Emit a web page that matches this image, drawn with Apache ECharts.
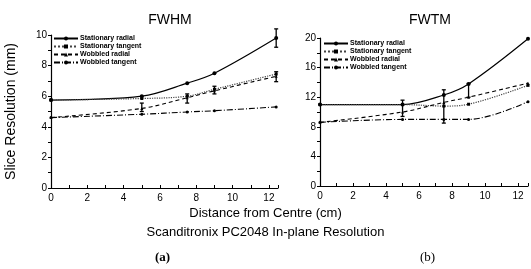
<!DOCTYPE html>
<html><head><meta charset="utf-8">
<script src="https://cdn.jsdelivr.net/npm/echarts@6/dist/echarts.min.js"></script>
<style>html,body{margin:0;padding:0;background:#fff}#c{width:531px;height:269px}</style>
</head><body><div id="c"></div>
<script>
// ---- data ----
const seriesNames = ['Stationary radial','Stationary tangent','Wobbled radial','Wobbled tangent'];
const xPos = [0, 5, 7.5, 9, 12.4];
// FWHM (a)
const fwhmStatRadial  = [5.75, 6.0, 6.85, 7.5, 9.8];
const fwhmStatTangent = [5.75, 5.85, 6.0, 6.45, 7.45];
const fwhmWobRadial   = [4.6, 5.2, 5.9, 6.35, 7.3];
const fwhmWobTangent  = [4.6, 4.82, 4.97, 5.05, 5.3];
const fwhmErr = [[5,5.0,5.55],[7.5,5.55,6.15],[9,6.15,6.65],[12.4,9.2,10.4],[12.4,6.95,7.6]];
// FWTM (b)
const xPosB = [0, 5, 7.5, 9, 12.6];
const fwtmStatRadial  = [11.0, 11.0, 12.3, 13.8, 19.9];
const fwtmStatTangent = [11.0, 11.0, 10.8, 11.05, 13.6];
const fwtmWobRadial   = [8.6, 10.0, 11.3, 12.0, 13.9];
const fwtmWobTangent  = [8.6, 9.0, 9.0, 9.0, 11.4];
const fwtmErr = [[5,9.4,11.6],[7.5,8.5,13.0],[9,12.0,13.85]];
const xTicks = [0,2,4,6,8,10,12];

const pair = (xs, ys) => xs.map((x,i)=>[x, ys[i]]);
const styles = [
  {type:'solid', width:1.2, symbol:'circle', size:4},
  {type:'dotted', width:1.2, symbol:'rect', size:3},
  {type:[4,3], width:1.1, symbol:'triangle', size:3},
  {type:[6,2,1,2], width:1.1, symbol:'circle', size:3}
];
function lines(xs, arrs, idx){
  return arrs.map((ys,k)=>({
    name: seriesNames[k], type:'line', xAxisIndex:idx, yAxisIndex:idx,
    data: pair(xs, ys), smooth:0.35, symbol: styles[k].symbol, symbolSize: styles[k].size,
    showSymbol:true, itemStyle:{color:'#000'},
    lineStyle:{color: k===1?'#444':'#000', width: styles[k].width, type: styles[k].type},
    z:3, silent:true, animation:false
  }));
}
function errSeries(data, idx){
  return {type:'custom', xAxisIndex:idx, yAxisIndex:idx, data:data, encode:{x:0,y:[1,2]}, silent:true, animation:false, z:4,
    renderItem:function(params, api){
      const x=api.value(0), lo=api.value(1), hi=api.value(2);
      const a=api.coord([x,lo]), b=api.coord([x,hi]);
      const s={stroke:'#000', lineWidth:1.3};
      return {type:'group', children:[
        {type:'line', shape:{x1:a[0],y1:a[1],x2:b[0],y2:b[1]}, style:s},
        {type:'line', shape:{x1:a[0]-2,y1:a[1],x2:a[0]+2,y2:a[1]}, style:s},
        {type:'line', shape:{x1:b[0]-2,y1:b[1],x2:b[0]+2,y2:b[1]}, style:s}
      ]};
    }};
}
const font = 'Liberation Sans, Arial, sans-serif';
function xAx(idx, max){
  return {type:'value', gridIndex:idx, min:0, max:max, interval:1,
    axisLine:{onZero:false, lineStyle:{color:'#000', width:1.2}},
    axisTick:{inside:true, length:3, lineStyle:{color:'#000'}},
    axisLabel:{color:'#000', fontSize:10, fontFamily:font, margin:5,
      formatter:v=> xTicks.indexOf(v)>=0 ? String(v) : ''},
    splitLine:{show:false}};
}
function yAx(idx, max, step, name){
  return {type:'value', gridIndex:idx, min:0, max:max, interval:step,
    name:name, nameLocation:'middle', nameGap:33, nameTextStyle:{color:'#000', fontSize:14, fontFamily:font},
    axisLine:{show:true, lineStyle:{color:'#000', width:1.2}},
    axisTick:{show:true, length:3, lineStyle:{color:'#000'}},
    minorTick:{show:true, splitNumber:2, length:3, lineStyle:{color:'#000'}},
    axisLabel:{color:'#000', fontSize:10, fontFamily:font, margin:4},
    splitLine:{show:false}};
}
const chart = echarts.init(document.getElementById('c'), null, {renderer:'canvas'});
chart.setOption({
  animation:false,
  backgroundColor:'#fff',
  title:[
    {text:'FWHM', left:165, top:8, textAlign:'center', textStyle:{fontSize:14, fontWeight:'normal', fontFamily:font, color:'#000'}},
    {text:'FWTM', left:425, top:8, textAlign:'center', textStyle:{fontSize:14, fontWeight:'normal', fontFamily:font, color:'#000'}}
  ],
  legend:[
    {data:seriesNames, left:53, top:35, orient:'vertical', itemWidth:24, itemHeight:5, itemGap:1,
     textStyle:{fontSize:7, fontWeight:'bold', fontFamily:font, color:'#000', padding:[0,0,0,-3]}, padding:0},
    {data:seriesNames, left:323, top:40, orient:'vertical', itemWidth:24, itemHeight:5, itemGap:1,
     textStyle:{fontSize:7, fontWeight:'bold', fontFamily:font, color:'#000', padding:[0,0,0,-3]}, padding:0}
  ],
  grid:[
    {left:51, top:35, width:227, height:153},
    {left:320, top:38, width:211, height:148}
  ],
  xAxis:[xAx(0, 12.5), xAx(1, 12.6)],
  yAxis:[yAx(0, 10, 2, 'Slice Resolution (mm)'), yAx(1, 20, 4, '')],
  series:[
    ...lines(xPos, [fwhmStatRadial, fwhmStatTangent, fwhmWobRadial, fwhmWobTangent], 0),
    ...lines(xPosB, [fwtmStatRadial, fwtmStatTangent, fwtmWobRadial, fwtmWobTangent], 1),
    errSeries(fwhmErr, 0), errSeries(fwtmErr, 1)
  ],
  graphic:[
    {type:'text', left:'center', top:207, style:{text:'Distance from Centre (cm)', font:'13px '+font, fill:'#000'}},
    {type:'text', left:'center', top:226, style:{text:'Scanditronix PC2048 In-plane Resolution', font:'13px '+font, fill:'#000'}},
    {type:'text', left:155, top:251, style:{text:'(a)', font:'bold 13px Liberation Serif, serif', fill:'#000'}},
    {type:'text', left:420, top:251, style:{text:'(b)', font:'13px Liberation Serif, serif', fill:'#000'}}
  ]
});
</script></body></html>
